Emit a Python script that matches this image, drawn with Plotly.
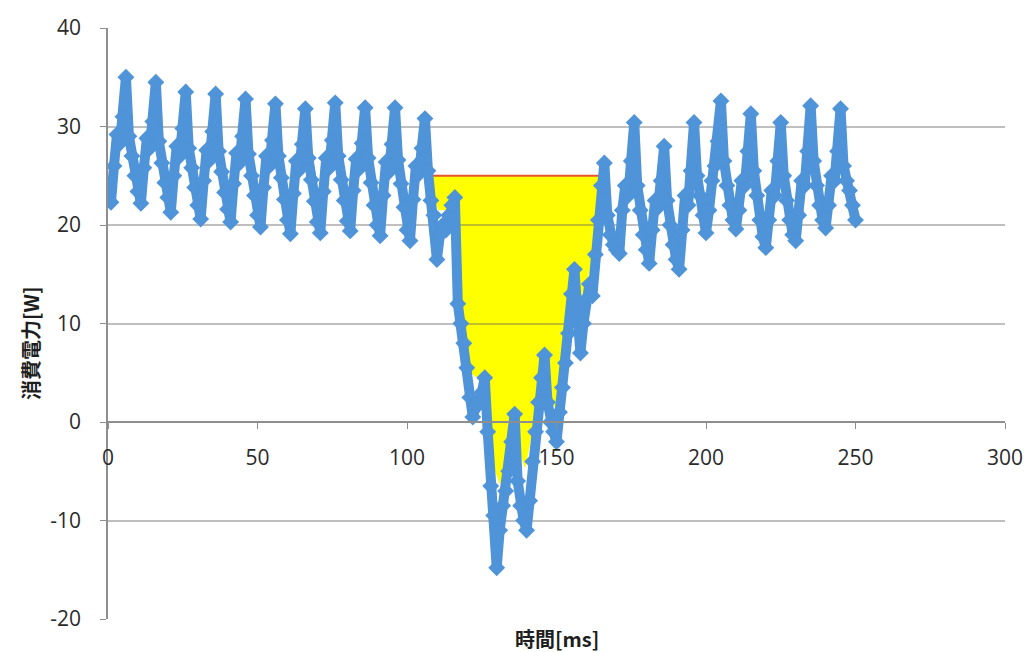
import plotly.graph_objects as go

# ---- data ----
time_ms = list(range(0, 251))  # sample times [ms], 1 ms apart

power_w = [
    22.6, 22.3, 26.0, 29.2, 28.3, 31.0, 35.0, 29.0, 27.0, 25.0, 23.4,
    22.2, 25.8, 28.8, 27.8, 30.5, 34.5, 28.5, 26.3, 24.3, 22.8,
    21.3, 25.0, 28.0, 27.0, 29.8, 33.5, 27.8, 25.8, 23.8, 22.0,
    20.6, 24.5, 27.6, 26.6, 29.5, 33.3, 27.5, 25.4, 23.3, 21.6,
    20.3, 24.2, 27.3, 26.3, 29.0, 32.8, 27.2, 25.0, 23.0, 21.0,
    19.8, 23.8, 27.0, 26.0, 28.6, 32.3, 27.0, 24.8, 22.6, 20.5,
    19.1, 23.2, 26.5, 25.6, 28.2, 31.8, 26.8, 24.6, 22.4, 20.3,
    19.2, 23.4, 26.8, 25.8, 28.6, 32.4, 27.0, 24.6, 22.5, 20.4,
    19.4, 23.5, 26.7, 25.7, 28.3, 31.9, 26.8, 24.3, 22.0, 20.0,
    18.9, 23.0, 26.4, 25.4, 28.2, 31.9, 26.6, 24.2, 21.8, 19.5,
    18.4, 22.6, 26.0, 25.2, 27.8, 30.8, 25.5, 22.5, 21.0, 16.5,
    19.0, 20.0, 19.5, 21.0, 22.0, 22.8, 12.0, 10.0, 8.0, 5.5,
    2.5, 0.5, 1.5, 2.0, 3.0, 4.5, -1.0, -6.5, -9.5, -14.8,
    -11.0, -8.5, -7.0, -5.0, -2.0, 0.8, -6.0, -8.5, -10.0, -11.0,
    -8.0, -4.0, -1.0, 2.0, 4.5, 6.8, 2.0, 0.0, -1.0, -2.0,
    1.0, 3.5, 6.0, 9.0, 13.0, 15.5, 11.0, 7.0, 10.0, 12.5,
    14.0, 12.8, 17.0, 20.5, 24.0, 26.3, 21.0, 19.0, 18.0, 17.5,
    17.1, 21.5, 24.0, 23.0, 26.5, 30.4, 24.0, 21.5, 19.0, 17.5,
    16.1, 19.5, 22.5, 21.8, 24.5, 28.0, 22.5, 20.0, 18.0, 16.5,
    15.5, 19.5, 23.0, 22.0, 25.5, 30.4, 25.0, 23.0, 21.0, 19.2,
    21.5, 24.5, 26.0, 28.5, 32.6, 26.5, 24.0, 22.0, 20.5, 19.6,
    21.5, 24.5, 24.0, 27.5, 31.3, 25.5, 23.0, 20.5, 18.8, 17.7,
    20.5, 23.5, 23.0, 26.5, 30.4, 25.0, 22.5, 20.5, 19.0, 18.4,
    21.0, 24.5, 24.0, 27.5, 32.1, 26.5, 24.0, 22.0, 20.5, 19.7,
    22.0, 25.0, 24.5, 27.5, 31.8, 26.0, 24.5, 23.5, 22.0, 20.5,
]

# yellow area: outline below the 25 W level (x [ms], y [W])
fill_x = [106.5, 108, 110.5, 113.5, 116, 117.3, 119, 121, 123.5, 126, 127.5,
          129.5, 131, 133.5, 135.7, 137.5, 139.5, 142, 144, 145.7, 147.5,
          150, 152, 154, 155.5, 158, 160.5, 162.5, 164.5, 165.5]
fill_y = [25, 23.5, 21.5, 21.5, 22.5, 13, 8, 5, 4.5, 4.5, -1,
          -5, -6.3, -5.5, 0.8, -3, -4.7, -1, 4, 6.8, 2,
          1.4, 4, 8, 15, 12.5, 14.5, 18, 22, 25]

# red reference level
level_x = [106.3, 165.5]
level_y = [25, 25]

x_ticks = [0, 50, 100, 150, 200, 250, 300]
y_ticks = [-20, -10, 0, 10, 20, 30, 40]

# ---- figure ----
BLUE = "#4F93D8"
GRID = "rgba(95,95,95,0.40)"
AXIS = "#8E8E8E"
TICKFONT = dict(family="Open Sans", size=21, color="#2B2B2B")
TITLEFONT = dict(family="Noto Sans CJK JP", size=20, color="#1E1E1E")

fig = go.Figure()

path = "M " + " L ".join(f"{x},{y}" for x, y in zip(fill_x, fill_y)) + " Z"
fig.add_shape(type="path", path=path, xref="x", yref="y",
              fillcolor="#FFFF00", line=dict(width=0), layer="below")

fig.add_trace(go.Scatter(x=level_x, y=level_y, mode="lines",
                         line=dict(color="#E8542C", width=2),
                         showlegend=False, hoverinfo="skip"))

fig.add_trace(go.Scatter(x=time_ms, y=power_w, mode="lines+markers",
                         line=dict(color=BLUE, width=10),
                         marker=dict(symbol="diamond", size=13, color=BLUE),
                         showlegend=False))

fig.update_layout(
    width=1027, height=652,
    margin=dict(l=108, r=22, t=28, b=33, autoexpand=False),
    paper_bgcolor="white", plot_bgcolor="white",
    xaxis=dict(range=[0, 300], tickvals=x_ticks, ticktext=[str(v) for v in x_ticks],
               showgrid=False, zeroline=False, automargin=False,
               showline=True, linecolor=AXIS, linewidth=1.5,
               ticks="outside", ticklen=6, tickcolor=AXIS,
               anchor="free", position=20 / 60,
               ticklabelstandoff=11, tickfont=TICKFONT),
    yaxis=dict(range=[-20, 40], tickvals=y_ticks, ticktext=[str(v) for v in y_ticks],
               showgrid=True, gridcolor=GRID, gridwidth=1.5, zeroline=False,
               automargin=False,
               showline=True, linecolor=AXIS, linewidth=1.5,
               ticks="outside", ticklen=6, tickcolor=AXIS,
               ticklabelstandoff=15, tickfont=TICKFONT),
    annotations=[
        dict(text="<b>消費電力[W]</b>", textangle=-90, xref="paper", yref="paper",
             x=-0.087, y=0.467,
             xanchor="center", yanchor="middle", showarrow=False, font=TITLEFONT),
        dict(text="<b>時間[ms]</b>", xref="paper", yref="paper",
             x=0.5, y=-0.033, xanchor="center", yanchor="middle",
             showarrow=False, font=TITLEFONT),
    ],
)

fig.write_html("out.html")
